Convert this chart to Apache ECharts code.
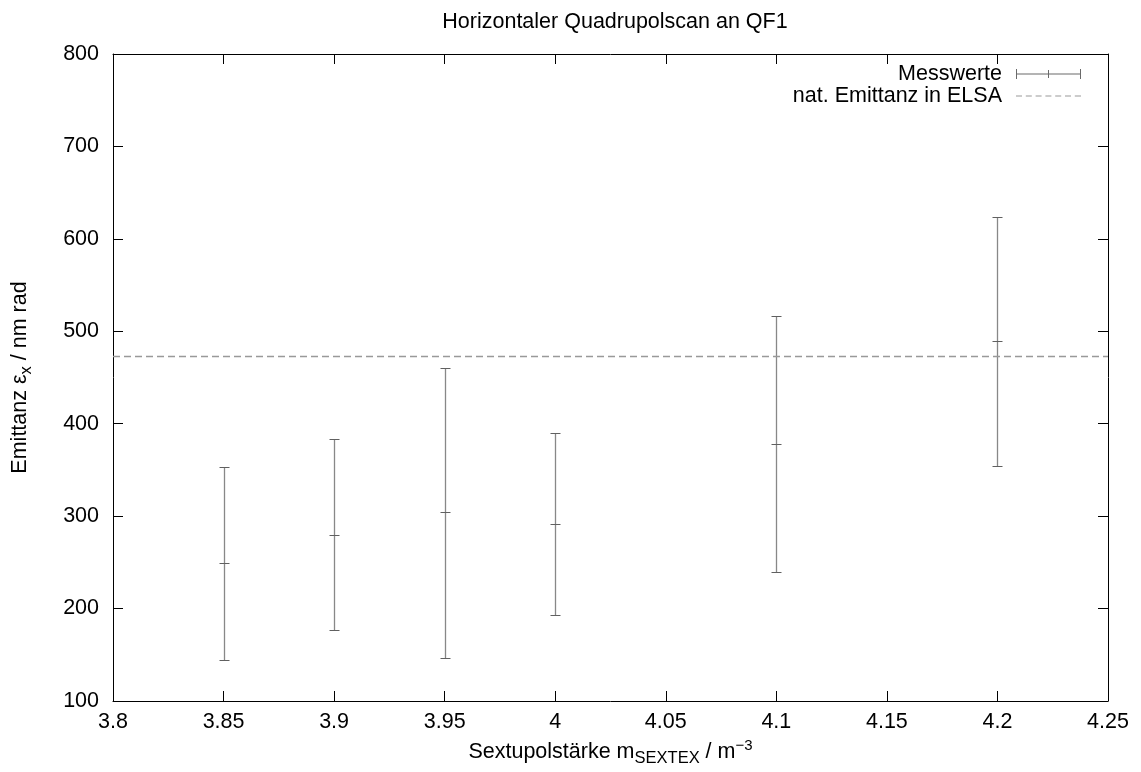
<!DOCTYPE html>
<html>
<head>
<meta charset="utf-8">
<script src="https://cdn.jsdelivr.net/npm/echarts@6/dist/echarts.min.js"></script>
<style>
html,body{margin:0;padding:0;background:#fff;}
#chart{width:1141px;height:772px;}
</style>
</head>
<body>
<div id="chart"></div>
<script>
// ---- data ----
const xValues = [3.85, 3.9, 3.95, 4.0, 4.1, 4.2];
const means   = [249, 280, 304, 292, 378, 489];
const lows    = [144, 177, 147, 193, 240, 354];
const highs   = [353, 384, 460, 390, 517, 624];
const natEmittance = 473;
const xTickMin = 3.8, xTickMax = 4.25, xTickStep = 0.05;
const yTickMin = 100, yTickMax = 800, yTickStep = 100;

const FONT = '"Liberation Sans", Arial, Helvetica, sans-serif';
const FS = 21.5;
const errData = xValues.map((x, i) => [x, means[i], lows[i], highs[i]]);

const chart = echarts.init(document.getElementById('chart'), null, {renderer: 'canvas'});

function fmtX(v) { return String(Math.round(v * 100) / 100); }

const barColor = '#888888';
const tickColor = '#606060';

const axisCommon = {
  axisLine: {show: true, lineStyle: {color: '#000', width: 1}},
  axisTick: {show: true, inside: true, length: 10, lineStyle: {color: '#000', width: 1}},
  splitLine: {show: false}
};

const option = {
  backgroundColor: '#fff',
  animation: false,
  title: {
    text: 'Horizontaler Quadrupolscan an QF1',
    left: 610, textAlign: 'center', top: 6,
    textStyle: {fontFamily: FONT, fontSize: FS, fontWeight: 'normal', color: '#000'}
  },
  grid: {left: 113, right: 33, top: 54, bottom: 71, containLabel: false},
  legend: {
    orient: 'vertical',
    right: 55, top: 58,
    align: 'right',
    itemWidth: 65, itemHeight: 10,
    itemGap: 0,
    selectedMode: false,
    textStyle: {fontFamily: FONT, fontSize: FS, lineHeight: 22, color: '#000', padding: [0, 9, 0, 0]},
    data: [
      {name: 'Messwerte',
       icon: 'path://M0,0h1v10h-1zM64,0h1v10h-1zM32,1h1v8h-1zM0,4.5h65v1h-65z',
       itemStyle: {color: '#6a6a6a'}},
      {name: 'nat. Emittanz in ELSA',
       icon: 'path://M0,4.5h6v1h-6zM9.8,4.5h6v1h-6zM19.6,4.5h6v1h-6zM29.4,4.5h6v1h-6zM39.2,4.5h6v1h-6zM49,4.5h6v1h-6zM58.8,4.5h6.2v1h-6.2z',
       itemStyle: {color: '#999'}}
    ]
  },
  xAxis: [
    Object.assign({
      type: 'value', min: xTickMin, max: xTickMax, interval: xTickStep,
      position: 'bottom',
      axisLabel: {show: true, fontFamily: FONT, fontSize: FS, color: '#000', margin: 10, formatter: fmtX},
      name: '{n|Sextupolstärke m}{sub|SEXTEX}{n| / m}{sup|−3}',
      nameLocation: 'middle', nameGap: 37,
      nameTextStyle: {
        fontFamily: FONT, color: '#000',
        rich: {
          n: {fontFamily: FONT, fontSize: FS, color: '#000'},
          sub: {fontFamily: FONT, fontSize: 16.5, color: '#000', padding: [12, 0, 0, 0]},
          sup: {fontFamily: FONT, fontSize: 15, color: '#000', padding: [0, 0, 13, 0]}
        }
      }
    }, axisCommon),
    Object.assign({
      type: 'value', min: xTickMin, max: xTickMax, interval: xTickStep,
      position: 'top', axisLabel: {show: false}
    }, axisCommon)
  ],
  yAxis: [
    Object.assign({
      type: 'value', min: yTickMin, max: yTickMax, interval: yTickStep,
      position: 'left',
      axisLabel: {show: true, fontFamily: FONT, fontSize: FS, color: '#000', margin: 14},
      name: '{n|Emittanz ε}{sub|x}{n| / nm rad}',
      nameLocation: 'middle', nameGap: 78, nameRotate: 90,
      nameTextStyle: {
        fontFamily: FONT, color: '#000',
        rich: {
          n: {fontFamily: FONT, fontSize: FS, color: '#000'},
          sub: {fontFamily: FONT, fontSize: 16.5, color: '#000', padding: [12, 0, 0, 0]}
        }
      }
    }, axisCommon),
    Object.assign({
      type: 'value', min: yTickMin, max: yTickMax, interval: yTickStep,
      position: 'right', axisLabel: {show: false}
    }, axisCommon)
  ],
  series: [
    {
      name: 'Messwerte',
      type: 'custom',
      xAxisIndex: 0, yAxisIndex: 0,
      data: errData,
      encode: {x: 0, y: [1, 2, 3]},
      itemStyle: {color: '#6a6a6a'},
      renderItem: function (params, api) {
        const x = api.value(0);
        const pM = api.coord([x, api.value(1)]);
        const pLo = api.coord([x, api.value(2)]);
        const pHi = api.coord([x, api.value(3)]);
        const hw = 5;
        const cx = Math.round(pM[0]) + 0.5;
        const r = v => Math.round(v) + 0.5;
        return {
          type: 'group',
          children: [
            {type: 'line', shape: {x1: cx, y1: r(pHi[1]), x2: cx, y2: r(pLo[1])},
             style: {stroke: barColor, lineWidth: 1.3}},
            {type: 'line', shape: {x1: cx - hw, y1: r(pHi[1]), x2: cx + hw, y2: r(pHi[1])},
             style: {stroke: tickColor, lineWidth: 1}},
            {type: 'line', shape: {x1: cx - hw, y1: r(pLo[1]), x2: cx + hw, y2: r(pLo[1])},
             style: {stroke: tickColor, lineWidth: 1}},
            {type: 'line', shape: {x1: cx - hw, y1: r(pM[1]), x2: cx + hw, y2: r(pM[1])},
             style: {stroke: tickColor, lineWidth: 1}}
          ]
        };
      }
    },
    {
      name: 'nat. Emittanz in ELSA',
      type: 'line',
      xAxisIndex: 0, yAxisIndex: 0,
      data: [],
      symbol: 'none',
      itemStyle: {color: '#999'},
      lineStyle: {color: '#999', type: [7, 4], width: 1.3},
      markLine: {
        silent: true,
        symbol: ['none', 'none'],
        label: {show: false},
        lineStyle: {color: '#999', type: [7, 4], width: 1.3},
        data: [{yAxis: natEmittance}]
      }
    }
  ]
};

chart.setOption(option);
</script>
</body>
</html>
